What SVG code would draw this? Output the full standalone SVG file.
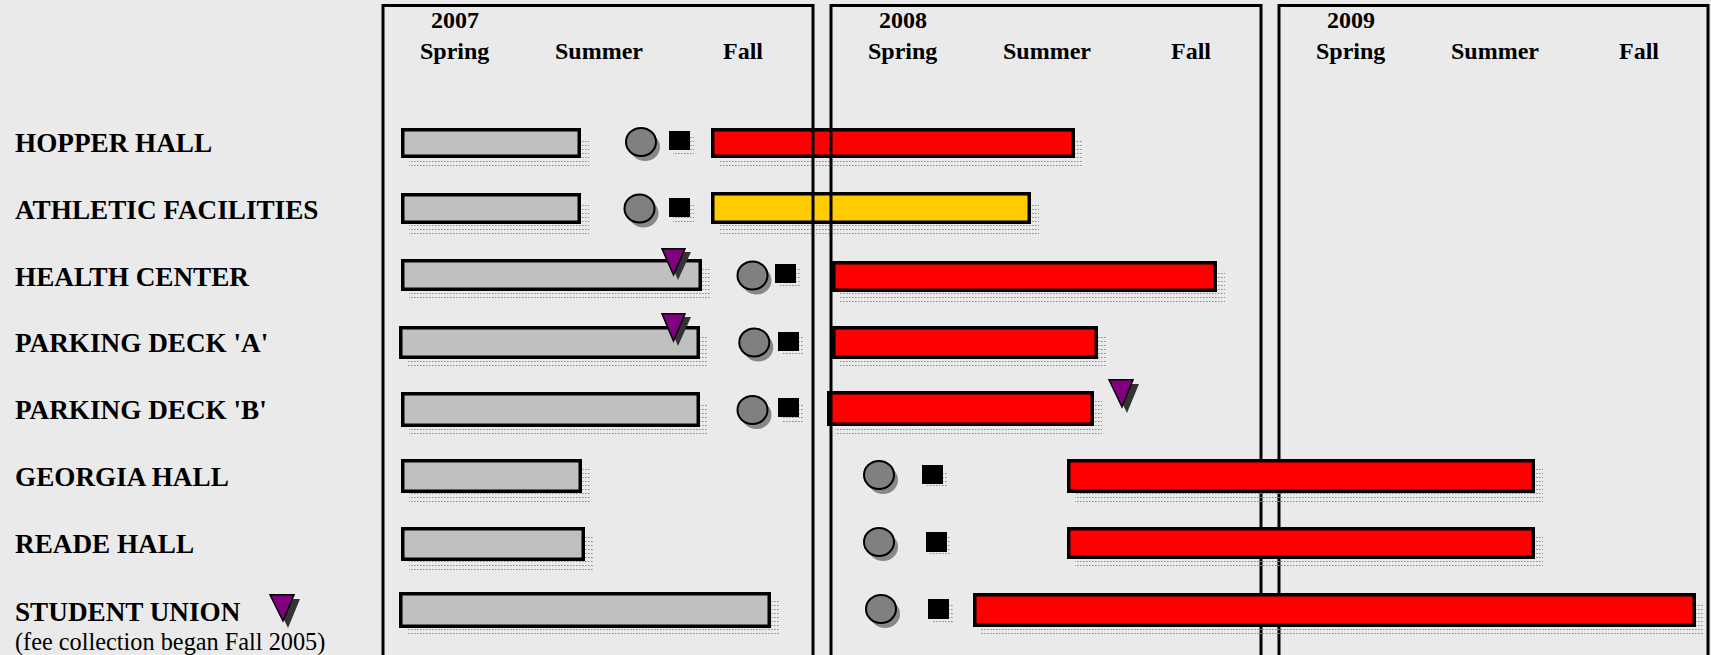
<svg xmlns="http://www.w3.org/2000/svg" width="1711" height="655" viewBox="0 0 1711 655">
<defs>
<pattern id="dots" width="3" height="4" patternUnits="userSpaceOnUse">
<rect x="0" y="1" width="1.6" height="1" fill="#8e8e8e"/>
</pattern>
<style>
.lbl{font-family:"Liberation Serif","Times New Roman",serif;font-weight:bold;font-size:27.2px;fill:#000}
.note{font-family:"Liberation Serif","Times New Roman",serif;font-size:24.3px;fill:#000}
.hdr{font-family:"Liberation Serif","Times New Roman",serif;font-weight:bold;font-size:24px;fill:#000}
.frame{fill:none;stroke:#000;stroke-width:3}
.bar{stroke:#000;stroke-width:3.5}
.gray{fill:#c0c0c0}
.red{fill:#ff0000}
.yel{fill:#ffcc00}
.shd{fill:url(#dots)}
.circ{fill:#808080;stroke:#000;stroke-width:2}
.csh{fill:#888}
.sq{fill:#000}
.tri{fill:#800080;stroke:#000;stroke-width:1.5;stroke-linejoin:miter}
.tsh{fill:#333}
</style>
</defs>
<rect x="0" y="0" width="1711" height="655" fill="#eaeaea"/>

<g id="labels">
<text class="lbl" x="15" y="152">HOPPER HALL</text>
<text class="lbl" x="15" y="219">ATHLETIC FACILITIES</text>
<text class="lbl" x="15" y="286">HEALTH CENTER</text>
<text class="lbl" x="15" y="352">PARKING DECK 'A'</text>
<text class="lbl" x="15" y="419">PARKING DECK 'B'</text>
<text class="lbl" x="15" y="486">GEORGIA HALL</text>
<text class="lbl" x="15" y="553">READE HALL</text>
<text class="lbl" x="15" y="621">STUDENT UNION</text>
<text class="note" x="15" y="650">(fee collection began Fall 2005)</text>
</g>

<g id="row-hopper">
<rect class="shd" x="409" y="138" width="180" height="30"/>
<rect class="bar gray" x="402.75" y="129.75" width="176.5" height="26.5"/>
<ellipse class="csh" cx="645" cy="147" rx="15" ry="14"/>
<ellipse class="circ" cx="641" cy="142" rx="15" ry="14"/>
<rect class="shd" x="673" y="136" width="21" height="19"/>
<rect class="sq" x="669" y="131" width="21" height="19"/>
<rect class="shd" x="719" y="138" width="364" height="30"/>
<rect class="bar red" x="712.75" y="129.75" width="360.5" height="26.5"/>
</g>

<g id="row-athletic">
<rect class="shd" x="409" y="203" width="180" height="31"/>
<rect class="bar gray" x="402.75" y="194.75" width="176.5" height="27.5"/>
<ellipse class="csh" cx="643.5" cy="213.5" rx="15" ry="14"/>
<ellipse class="circ" cx="639.5" cy="208.5" rx="15" ry="14"/>
<rect class="shd" x="673" y="203" width="21" height="19"/>
<rect class="sq" x="669" y="198" width="21" height="19"/>
<rect class="shd" x="719" y="202" width="320" height="32"/>
<rect class="bar yel" x="712.75" y="193.75" width="316.5" height="28.5"/>
</g>

<g id="row-health">
<rect class="shd" x="409" y="269" width="301" height="32"/>
<rect class="bar gray" x="402.75" y="260.75" width="297.5" height="28.5"/>
<polygon class="tsh" points="666,252 691,252 678,280"/>
<polygon class="tri" points="662,248.8 685,248.8 673.5,275"/>
<ellipse class="csh" cx="756.5" cy="280.5" rx="15" ry="14"/>
<ellipse class="circ" cx="752.5" cy="275.5" rx="15" ry="14"/>
<rect class="shd" x="779" y="269" width="21" height="19"/>
<rect class="sq" x="775" y="264" width="21" height="19"/>
<rect class="shd" x="840" y="271" width="385" height="31"/>
<rect class="bar red" x="833.75" y="262.75" width="381.5" height="27.5"/>
</g>

<g id="row-parking-a">
<rect class="shd" x="407" y="336" width="301" height="33"/>
<rect class="bar gray" x="400.75" y="327.75" width="297.5" height="29.5"/>
<polygon class="tsh" points="666,317 691,317 678,346"/>
<polygon class="tri" points="662,313.8 685,313.8 673.5,341"/>
<ellipse class="csh" cx="758.3" cy="347.5" rx="15" ry="14"/>
<ellipse class="circ" cx="754.3" cy="342.5" rx="15" ry="14"/>
<rect class="shd" x="782" y="337" width="21" height="19"/>
<rect class="sq" x="778" y="332" width="21" height="19"/>
<rect class="shd" x="840" y="336" width="266" height="33"/>
<rect class="bar red" x="833.75" y="327.75" width="262.5" height="29.5"/>
</g>

<g id="row-parking-b">
<rect class="shd" x="409" y="402" width="299" height="35"/>
<rect class="bar gray" x="402.75" y="393.75" width="295.5" height="31.5"/>
<ellipse class="csh" cx="756.5" cy="415" rx="15" ry="14"/>
<ellipse class="circ" cx="752.5" cy="410" rx="15" ry="14"/>
<rect class="shd" x="782" y="403" width="21" height="19"/>
<rect class="sq" x="778" y="398" width="21" height="19"/>
<rect class="shd" x="835" y="401" width="267" height="35"/>
<rect class="bar red" x="828.75" y="392.75" width="263.5" height="31.5"/>
<polygon class="tsh" points="1113,384 1139,384 1127,413"/>
<polygon class="tri" points="1109,379.8 1133,379.8 1122,407"/>
</g>

<g id="timeline-frames">
<rect class="frame" x="383" y="5.5" width="430" height="700"/>
<rect class="frame" x="831" y="5.5" width="430" height="700"/>
<rect class="frame" x="1279" y="5.5" width="429" height="700"/>
<text class="hdr" x="431" y="28">2007</text>
<text class="hdr" x="420" y="59">Spring</text>
<text class="hdr" x="555" y="59">Summer</text>
<text class="hdr" x="723" y="59">Fall</text>
<text class="hdr" x="879" y="28">2008</text>
<text class="hdr" x="868" y="59">Spring</text>
<text class="hdr" x="1003" y="59">Summer</text>
<text class="hdr" x="1171" y="59">Fall</text>
<text class="hdr" x="1327" y="28">2009</text>
<text class="hdr" x="1316" y="59">Spring</text>
<text class="hdr" x="1451" y="59">Summer</text>
<text class="hdr" x="1619" y="59">Fall</text>
</g>

<g id="row-georgia">
<rect class="shd" x="409" y="468" width="181" height="34"/>
<rect class="bar gray" x="402.75" y="460.75" width="177.5" height="30.5"/>
<ellipse class="csh" cx="883" cy="480" rx="15" ry="14"/>
<ellipse class="circ" cx="879" cy="475" rx="15" ry="14"/>
<rect class="shd" x="926" y="470" width="21" height="19"/>
<rect class="sq" x="922" y="465" width="21" height="19"/>
<rect class="shd" x="1075" y="468" width="468" height="34"/>
<rect class="bar red" x="1068.75" y="460.75" width="464.5" height="30.5"/>
</g>

<g id="row-reade">
<rect class="shd" x="409" y="536" width="184" height="34"/>
<rect class="bar gray" x="402.75" y="528.75" width="180.5" height="30.5"/>
<ellipse class="csh" cx="883" cy="547" rx="15" ry="14"/>
<ellipse class="circ" cx="879" cy="542" rx="15" ry="14"/>
<rect class="shd" x="930" y="537" width="21" height="20"/>
<rect class="sq" x="926" y="532" width="21" height="20"/>
<rect class="shd" x="1075" y="536" width="468" height="32"/>
<rect class="bar red" x="1068.75" y="528.75" width="464.5" height="28.5"/>
</g>

<g id="row-student-union">
<polygon class="tsh" points="274,599 300,599 288,628"/>
<polygon class="tri" points="270,594.8 294,594.8 283,621"/>
<rect class="shd" x="407" y="601" width="372" height="36"/>
<rect class="bar gray" x="400.75" y="593.75" width="368.5" height="32.5"/>
<ellipse class="csh" cx="885" cy="614" rx="15" ry="14"/>
<ellipse class="circ" cx="881" cy="609" rx="15" ry="14"/>
<rect class="shd" x="932" y="604" width="21" height="20"/>
<rect class="sq" x="928" y="599" width="21" height="20"/>
<rect class="shd" x="981" y="602" width="723" height="34"/>
<rect class="bar red" x="974.75" y="594.75" width="719.5" height="30.5"/>
</g>
</svg>
